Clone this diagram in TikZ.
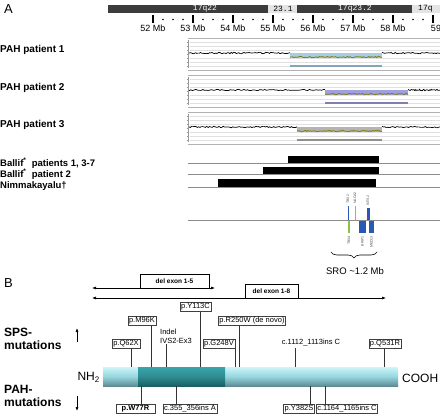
\documentclass[tikz,border=0pt]{standalone}
\usepackage{fontspec}
\setmainfont{Liberation Sans}
\newfontfamily\bandfont{Liberation Mono}
\usetikzlibrary{arrows.meta,decorations.pathreplacing}

\definecolor{banddark}{RGB}{60,60,60}
\definecolor{bandlight}{RGB}{228,228,228}
\definecolor{delblue}{RGB}{165,205,230}
\definecolor{delpurple}{RGB}{160,160,220}
\definecolor{delgray}{RGB}{180,180,180}
\definecolor{delolive}{RGB}{130,130,20}
\definecolor{geneblue}{RGB}{40,90,180}
\definecolor{genelight}{RGB}{140,170,215}
\definecolor{genegreen}{RGB}{140,195,70}
\definecolor{protlight}{RGB}{205,246,249}
\definecolor{protmid}{RGB}{150,215,222}
\definecolor{protlow}{RGB}{95,140,148}
\definecolor{domtop}{RGB}{55,165,170}
\definecolor{domlow}{RGB}{25,95,100}

\tikzset{
  rowlbl/.style={anchor=west, inner sep=0pt, font=\bfseries\fontsize{10}{12}\selectfont},
  reflbl/.style={anchor=west, inner sep=0pt, font=\bfseries\fontsize{9.5}{11}\selectfont},
  mblbl/.style={inner sep=0pt, font=\fontsize{9}{10}\selectfont},
  bandlbl/.style={inner sep=0pt, font=\bandfont\fontsize{8}{8}\selectfont},
  gridline/.style={black!12, line width=0.6pt},
  refline/.style={black!45, line width=0.5pt},
  genelbl/.style={rotate=90, inner sep=0pt, font=\fontsize{3.5}{4}\selectfont, text=black!70},
  mutbox/.style={draw=black!75, fill=white, inner sep=1pt, font=\fontsize{7.5}{8}\selectfont},
  mutlbl/.style={inner sep=1pt, align=left, font=\fontsize{7.5}{8.5}\selectfont},
  mutline/.style={black!80, line width=0.6pt},
  delbox/.style={draw, inner sep=0pt, minimum height=14pt, font=\bfseries\fontsize{6.5}{7}\selectfont},
  span/.style={line width=0.6pt, {Latex[length=4pt,width=3pt]}-{Latex[length=4pt,width=3pt]}},
  grplbl/.style={anchor=west, inner sep=0pt, align=left, font=\bfseries\fontsize{12}{13}\selectfont},
  updown/.style={line width=0.7pt, -{Latex[length=4pt,width=3pt]}},
}

\begin{document}
\begin{tikzpicture}[x=1pt,y=-1pt]
\useasboundingbox (0,0) rectangle (440,415);
\pgfmathsetseed{7}

% A: copy number
\node[anchor=west, inner sep=0pt, font=\fontsize{13}{13}\selectfont] (labA) at (4,9) {A};

\fill[banddark] (108,5) rectangle (268,13);
\fill[bandlight] (268,5) rectangle (297,13);
\fill[banddark] (297,5) rectangle (412,13);
\fill[bandlight] (412,5) rectangle (440,13);
\node[bandlbl, text=white] (q22) at (205,9) {17q22};
\node[bandlbl] (q231) at (283,9) {23.1};
\node[bandlbl, text=white] (q232) at (355,9) {17q23.2};
\node[bandlbl, anchor=west] (q24) at (418,9) {17q};

\foreach \m [count=\i from 0] in {52,...,59} {
  \draw[line width=1.1pt] (153+40*\i,15) -- (153+40*\i,23);
  \foreach \k in {10,20,30} \fill (153+40*\i+\k,19.5) circle (0.8);
}
\foreach \m [count=\i from 0] in {52,...,58} \node[mblbl] (mb\m) at (153+40*\i,28) {\m\ Mb};
\node[mblbl] (mb59) at (436,28) {59};

\node[rowlbl] (pat1) at (0,50) {PAH patient 1};
\node[rowlbl] (pat2) at (0,88) {PAH patient 2};
\node[rowlbl] (pat3) at (0,125) {PAH patient 3};

\foreach \t/\a/\b/\c in {38/290/382/delblue, 75/325/408/delpurple, 112/297/382/delgray} {
  \draw[black!30] (188,\t) -- (440,\t) (188,\t+32) -- (440,\t+32);
  \foreach \g in {4,8,12,20,24,28} \draw[gridline] (190,\t+\g) -- (440,\t+\g);
  \draw[black!40] (188,\t+2) -- (188,\t+30);
  \foreach \g in {4,8,...,28} \draw[black!40] (186.5,\t+\g) -- (188,\t+\g);
  \fill[\c] (\a,\t+15) rectangle (\b,\t+20);
  \draw[\c!80!black, line width=1.2pt] (\a,\t+28) -- (\b,\t+28);
  \draw[black, line width=0.7pt] plot[domain=189:\a, samples=80] (\x,{\t+15+0.7*rand});
  \draw[delolive, line width=0.8pt] plot[domain=\a:\b, samples=70] (\x,{\t+19+0.7*rand});
  \draw[black, line width=0.7pt] plot[domain=\b:440, samples=45] (\x,{\t+15+0.7*rand});
}

\foreach \y in {163,174,187,220} \draw[refline] (188,\y) -- (440,\y);
\fill (288,156) rectangle (379,163);
\fill (263,167) rectangle (379,174);
\fill (218,179) rectangle (376,187);
\node[reflbl] (ballif1) at (0,163) {Ballif\textsuperscript{*}\ \ patients 1, 3-7};
\node[reflbl] (ballif2) at (0,174) {Ballif\textsuperscript{*}\ \ patient 2};
\node[reflbl] (nimma) at (0,186) {Nimmakayalu\textdagger};

% genes in the SRO
\draw[geneblue, line width=0.8pt] (348,206) -- (348,220);
\draw[genelight, line width=0.8pt] (355,206) -- (355,220);
\fill[geneblue] (366.5,208) rectangle (369.5,220);
\draw[genegreen, line width=1.2pt] (349,220.5) -- (349,233);
\fill[geneblue] (359,220.5) rectangle (366,233);
\fill[geneblue] (369,220.5) rectangle (374,233);
\node[genelbl, anchor=west] (tbx2) at (348,204) {TBX2};
\node[genelbl, anchor=west] (naca2) at (355,204) {NACA2};
\node[genelbl, anchor=west] (ints2) at (368,206) {INTS2};
\node[genelbl, anchor=east] (tbx4) at (349,236) {TBX4};
\node[genelbl, anchor=east] (brip1) at (362.5,236) {BRIP1};
\node[genelbl, anchor=east] (med13) at (371.5,236) {MED13};

\coordinate (sroL) at (331,252);
\coordinate (sroR) at (377,252);
\draw[decorate, decoration={brace, mirror, amplitude=6pt}, line width=0.6pt] (sroL) -- (sroR);
\node[inner sep=0pt, font=\fontsize{9.5}{10}\selectfont] (sro) at (355,271) {SRO \textasciitilde1.2 Mb};

% B: mutations
\node[anchor=west, inner sep=0pt, font=\fontsize{13}{13}\selectfont] (labB) at (4,283) {B};

\coordinate (d5L) at (92,288); \coordinate (d5R) at (215,288);
\coordinate (d8L) at (92,298); \coordinate (d8R) at (386,298);
\draw[span] (d5L) -- (d5R);
\draw[span] (d8L) -- (d8R);
\node[delbox, minimum width=69pt, anchor=south] (del15) at (174.5,288) {del exon 1-5};
\node[delbox, minimum width=53pt, anchor=south, fill=white] (del18) at (271.5,298) {del exon 1-8};

\shade[top color=protlight, bottom color=protlow, middle color=protmid] (103,367) rectangle (398,386);
\shade[top color=domtop, bottom color=domlow, middle color=domtop!85!black] (138,367) rectangle (225,386);
\node[anchor=east, inner sep=0pt, font=\fontsize{12}{12}\selectfont] (nterm) at (100,377) {NH\textsubscript{2}};
\node[anchor=west, inner sep=0pt, font=\fontsize{12}{12}\selectfont] (cterm) at (402,378) {COOH};

\node[mutbox] (q62x) at (126,344) {p.Q62X};
\node[mutbox] (m96k) at (142,320.5) {p.M96K};
\node[mutlbl, anchor=north west] (indel) at (159,328) {Indel\\IVS2-Ex3};
\node[mutbox] (y113c) at (195.5,307) {p.Y113C};
\node[mutbox] (g248v) at (219,344) {p.G248V};
\node[mutbox] (r250w) at (252,320.5) {p.R250W (de novo)};
\node[mutlbl] (c1112) at (311,343) {c.1112\_1113ins C};
\node[mutbox] (q531r) at (385,344) {p.Q531R};
\foreach \n/\x in {q62x/131, m96k/151, indel/166, y113c/200, g248v/235, r250w/239, c1112/295, q531r/384} {
  \coordinate (at\n) at (\x,367);
  \draw[mutline] (\n.south -| at\n) -- (at\n);
}

\node[mutbox, minimum width=39pt, font=\bfseries\fontsize{7.5}{8}\selectfont] (w77r) at (135.5,408.5) {p.W77R};
\node[mutbox] (c355) at (190,408.5) {c.355\_356ins A};
\node[mutbox] (y382s) at (299,408.5) {p.Y382S};
\node[mutbox] (c1164) at (347,408.5) {c.1164\_1165ins C};
\foreach \n/\x in {w77r/141, c355/176, y382s/310, c1164/325} {
  \coordinate (ab\n) at (\x,386);
  \draw[mutline] (ab\n) -- (\n.north -| ab\n);
}

\node[grplbl] (sps) at (4,338.5) {SPS-\\mutations};
\node[grplbl] (pah) at (4,395.5) {PAH-\\mutations};
\coordinate (spsA) at (77,342); \coordinate (spsB) at (77,328);
\coordinate (pahA) at (77,396); \coordinate (pahB) at (77,411);
\draw[updown] (spsA) -- (spsB);
\draw[updown] (pahA) -- (pahB);
\end{tikzpicture}
\end{document}
